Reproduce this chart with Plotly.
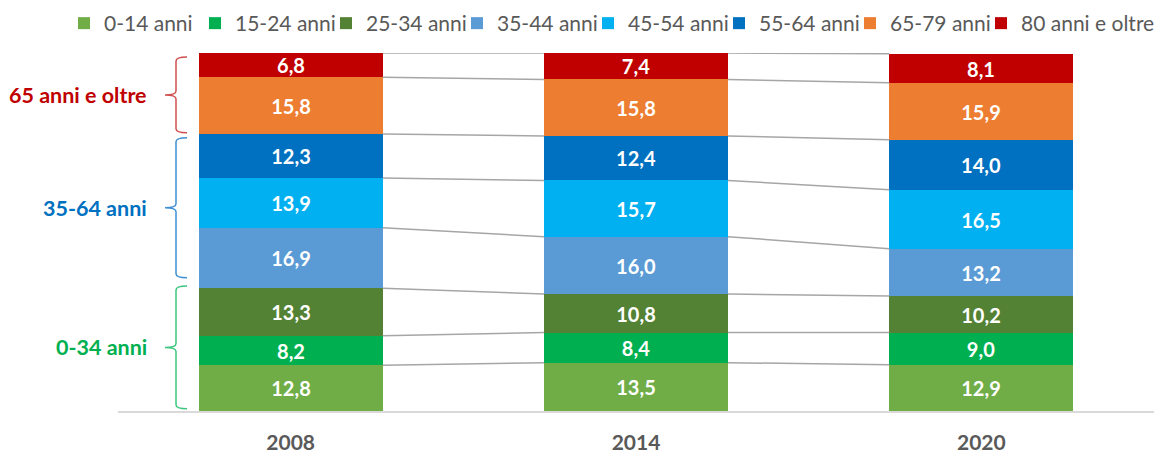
import plotly.graph_objects as go

# Population share by age group (%), per year
years = ["2008", "2014", "2020"]
groups = ["0-14 anni", "15-24 anni", "25-34 anni", "35-44 anni",
          "45-54 anni", "55-64 anni", "65-79 anni", "80 anni e oltre"]
values = {
    "2008": [12.8, 8.2, 13.3, 16.9, 13.9, 12.3, 15.8, 6.8],
    "2014": [13.5, 8.4, 10.8, 16.0, 15.7, 12.4, 15.8, 7.4],
    "2020": [12.9, 9.0, 10.2, 13.2, 16.5, 14.0, 15.9, 8.1],
}
colors = ["#70AD47", "#00B050", "#548235", "#5B9BD5",
          "#00B0F0", "#0070C0", "#ED7D31", "#C00000"]

# Bracketed macro-groups: label, colour, text colour, y span (%)
brace_labels = ["65 anni e oltre", "35-64 anni", "0-34 anni"]
brace_colors = ["#D0504F", "#3F8FD2", "#3DC67E"]
brace_text_colors = ["#C00000", "#0070C0", "#00B050"]
brace_spans = [(98.9, 77.7), (76.3, 37.2), (34.9, 0.6)]

FONT = "Lato, Carlito, Calibri, sans-serif"
W, H = 1154, 455
ML, MR, MT, MB = 118, 0, 53, 44
PW, PH = W - ML - MR, H - MT - MB
BAR_W = 0.533
LEG_X0 = 64
LEG_STEP = 131

xs = list(range(len(years)))
fig = go.Figure()

def legend_id(i):
    return "legend" if i == 0 else f"legend{i + 1}"

for gi, g in enumerate(groups):
    # one legend box per entry so entries sit on an even horizontal step
    fig.add_trace(go.Bar(
        x=xs, y=[values[yr][gi] for yr in years], name=g,
        legend=legend_id(gi),
        marker=dict(color=colors[gi], line=dict(width=0)),
        width=BAR_W,
        texttemplate="%{y:.1f}", textposition="inside",
        insidetextanchor="middle", textangle=0,
        textfont=dict(family=FONT, size=20, color="white", weight="bold"),
        constraintext="none",
    ))

# Connector lines between cumulative segment boundaries of adjacent bars
cums = {}
for yr in years:
    c, acc = [], 0.0
    for v in values[yr]:
        acc += v
        c.append(acc)
    cums[yr] = c
for i in range(len(years) - 1):
    a, b = cums[years[i]], cums[years[i + 1]]
    for k in range(len(groups)):
        fig.add_trace(go.Scatter(
            x=[xs[i] + BAR_W / 2, xs[i + 1] - BAR_W / 2], y=[a[k], b[k]],
            mode="lines", line=dict(color="#A6A6A6", width=1.5),
            showlegend=False, hoverinfo="skip",
        ))

def px_to_paper_x(px):
    return (px - ML) / PW

shapes, annotations = [], []
x_line, x_hook, x_tip = px_to_paper_x(176), px_to_paper_x(187), px_to_paper_x(165)
r = 4 / PH
for lab, col, tcol, (top, bot) in zip(brace_labels, brace_colors, brace_text_colors, brace_spans):
    yt, yb = top / 100, bot / 100
    ym = (yt + yb) / 2
    path = (f"M {x_hook},{yt} Q {x_line},{yt} {x_line},{yt - r} "
            f"L {x_line},{ym + r} Q {x_line},{ym} {x_tip},{ym} "
            f"Q {x_line},{ym} {x_line},{ym - r} "
            f"L {x_line},{yb + r} Q {x_line},{yb} {x_hook},{yb}")
    shapes.append(dict(type="path", xref="paper", yref="paper", path=path,
                       line=dict(color=col, width=1.5)))
    annotations.append(dict(
        x=px_to_paper_x(149), y=ym, xref="paper", yref="paper",
        xanchor="right", yanchor="middle", showarrow=False, text=lab,
        font=dict(family=FONT, size=21.5, color=tcol, weight="bold"),
    ))

legends = {}
for gi in range(len(groups)):
    legends[legend_id(gi)] = dict(
        orientation="h", xref="container", x=(LEG_X0 + gi * LEG_STEP) / W,
        xanchor="left", yref="container", y=1 - 3 / H, yanchor="top",
        font=dict(family=FONT, size=21, color="#595959"),
        itemclick=False, bgcolor="rgba(0,0,0,0)",
    )

fig.update_layout(
    width=W, height=H,
    margin=dict(l=ML, r=MR, t=MT, b=MB, autoexpand=False),
    barmode="stack", bargap=0,
    separators=",.",
    plot_bgcolor="white", paper_bgcolor="white",
    font=dict(family=FONT, color="#595959"),
    showlegend=True,
    xaxis=dict(
        range=[-0.5, 2.5], tickmode="array", tickvals=xs, ticktext=years,
        showgrid=False, zeroline=False, showline=True,
        linecolor="#D9D9D9", linewidth=2, ticks="",
        tickfont=dict(family=FONT, size=21, color="#595959", weight="bold"),
        ticklabelstandoff=12,
    ),
    yaxis=dict(range=[0, 100], visible=False, showgrid=False, zeroline=False),
    shapes=shapes, annotations=annotations,
    **legends,
)

fig.write_html("out.html")
